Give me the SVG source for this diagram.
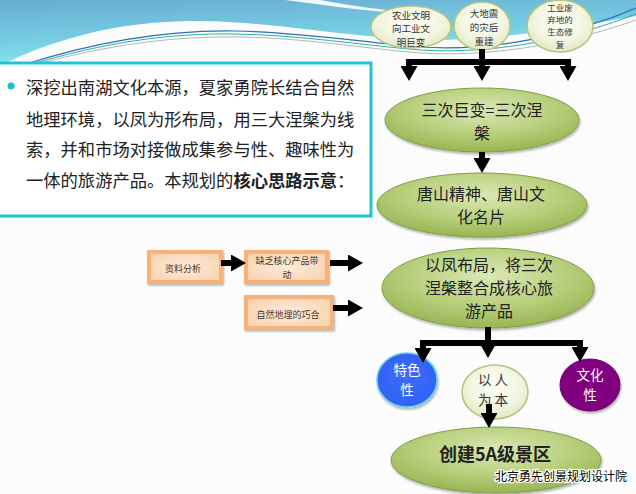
<svg xmlns="http://www.w3.org/2000/svg" width="636" height="494" viewBox="0 0 636 494">
<defs>
<style>
.cjk{font-family:"Noto Sans CJK SC","Noto Sans",sans-serif;}
.sm{font-size:9.5px;fill:#333;text-anchor:middle;}
.sm2{font-size:8.5px;fill:#333;text-anchor:middle;}
.big{font-size:16px;fill:#222;text-anchor:middle;}
.box{font-size:9px;fill:#4a3525;text-anchor:middle;}
.mid{font-size:13.5px;text-anchor:middle;}
.main{font-size:17.3px;fill:#222;}
.gel{fill:url(#gGreen);stroke:#819e42;stroke-width:1;filter:url(#sh);}
.tel{fill:url(#gLight);stroke:#b5c47f;stroke-width:1.5;}
.obox{fill:url(#gOrange);stroke:#f6b27a;stroke-width:4;filter:url(#sh2);}
.ln{fill:none;stroke:#000;stroke-width:6;}
.ar{fill:none;stroke:#000;stroke-width:6;marker-end:url(#ah);}
</style>
<linearGradient id="hdr" x1="0" y1="0" x2="0.3" y2="1">
<stop offset="0" stop-color="#69acd4"/>
<stop offset="0.6" stop-color="#76cfe3"/>
<stop offset="1" stop-color="#8ce6ee"/>
</linearGradient>
<radialGradient id="gGreen" cx="0.5" cy="0.35" r="0.7">
<stop offset="0" stop-color="#dbe8b4"/>
<stop offset="0.55" stop-color="#b6ce7a"/>
<stop offset="1" stop-color="#93b04b"/>
</radialGradient>
<radialGradient id="gLight" cx="0.5" cy="0.4" r="0.65">
<stop offset="0" stop-color="#fdfdf6"/>
<stop offset="0.6" stop-color="#f3f5e2"/>
<stop offset="1" stop-color="#dde6bb"/>
</radialGradient>
<radialGradient id="gBlue" cx="0.5" cy="0.45" r="0.6">
<stop offset="0" stop-color="#3d6cff"/>
<stop offset="0.85" stop-color="#3362f2"/>
<stop offset="1" stop-color="#3a8ee8"/>
</radialGradient>
<radialGradient id="gOrange" cx="0.5" cy="0.5" r="0.7">
<stop offset="0" stop-color="#fdebdc"/>
<stop offset="1" stop-color="#f9cfa9"/>
</radialGradient>
<filter id="sh" x="-10%" y="-10%" width="125%" height="130%">
<feDropShadow dx="1" dy="2" stdDeviation="1.2" flood-color="#000" flood-opacity="0.3"/>
</filter>
<filter id="sh2" x="-10%" y="-10%" width="125%" height="130%">
<feDropShadow dx="1" dy="1.5" stdDeviation="0.8" flood-color="#000" flood-opacity="0.3"/>
</filter>
<marker id="ah" markerUnits="userSpaceOnUse" viewBox="0 0 15 17" markerWidth="15" markerHeight="17" refX="0" refY="8.5" orient="auto">
<path d="M0,0 L15,8.5 L0,17 Z" fill="#000"/>
</marker>
</defs>

<g id="background">
<rect x="0" y="0" width="636" height="494" fill="#fcfcfc"/>
<path d="M0,0 H636 V16 C 570,28 500,40 430,40 C 350,38 280,22 200,21 C 120,20 50,40 0,66 Z" fill="url(#hdr)"/>
<path d="M285,0 C 330,6 380,13 440,16 C 400,12 350,6 320,0 Z" fill="#ffffff" opacity="0.9"/>
<path d="M20,66 C 100,40 170,30 235,31 C 300,32 360,42 420,47 C 500,52 580,32 636,8" fill="none" stroke="#2f6fc0" stroke-width="1.2"/>
<path d="M25,66 C 105,42 170,33 235,34 C 300,35 360,45 420,50 C 500,55 580,36 636,14" fill="none" stroke="#2bb3a0" stroke-width="1"/>
<path d="M30,66 C 110,44 175,36 240,37 C 305,38 360,48 420,53 C 500,58 580,40 636,20" fill="none" stroke="#9aa6b0" stroke-width="0.8"/>
</g>

<g id="intro">
<rect x="-4" y="63" width="375" height="153" fill="#ffffff" stroke="#1fc4d4" stroke-width="3"/>
<circle cx="11" cy="86" r="3.5" fill="#1cbfd0"/>
<text class="cjk main" x="26" y="94">深挖出南湖文化本源，夏家勇院长结合自然</text>
<text class="cjk main" x="26" y="126">地理环境，以凤为形布局，用三大涅槃为线</text>
<text class="cjk main" x="26" y="156">索，并和市场对接做成集参与性、趣味性为</text>
<text class="cjk main" x="26" y="187">一体的旅游产品。本规划的<tspan font-weight="bold">核心思路示意</tspan>：</text>
</g>

<g id="top1">
<ellipse class="tel" cx="411" cy="27" rx="40" ry="21"/>
<text class="cjk sm" x="411" y="18.6">农业文明<tspan x="411" dy="13.8">向工业文</tspan><tspan x="411" dy="13.8">明巨变</tspan></text>
</g>
<g id="top2">
<ellipse class="tel" cx="482" cy="26" rx="28" ry="24"/>
<text class="cjk sm" x="484" y="17.1">大地震<tspan x="484" dy="13.8">的灾后</tspan><tspan x="484" dy="13.8">重建</tspan></text>
</g>
<g id="top3">
<ellipse class="tel" cx="560" cy="26" rx="33" ry="26"/>
<text class="cjk sm2" x="560" y="10.7">工业废<tspan x="560" dy="12.3">弃地的</tspan><tspan x="560" dy="12.3">生态修</tspan><tspan x="560" dy="12.3">复</tspan></text>
</g>

<g id="nodeA">
<ellipse class="gel" cx="482" cy="120" rx="97" ry="32"/>
<text class="cjk big" x="482" y="115.5">三次巨变=三次涅<tspan x="482" dy="23.3">槃</tspan></text>
</g>
<g id="nodeB">
<ellipse class="gel" cx="482" cy="205" rx="105" ry="32"/>
<text class="cjk big" x="481" y="199.5">唐山精神、唐山文<tspan x="481" dy="23.3">化名片</tspan></text>
</g>
<g id="nodeC">
<ellipse class="gel" cx="488" cy="288" rx="106" ry="40"/>
<text class="cjk big" x="489" y="270.8">以凤布局，将三次<tspan x="489" dy="23.3">涅槃整合成核心旅</tspan><tspan x="489" dy="23.3">游产品</tspan></text>
</g>

<g id="box1">
<rect class="obox" x="149" y="252" width="72" height="30"/>
<text class="cjk box" x="183" y="272">资料分析</text>
</g>
<g id="box2">
<rect class="obox" x="246" y="252" width="81" height="30"/>
<text class="cjk box" x="287" y="264.4">缺乏核心产品带<tspan x="287" dy="13.1">动</tspan></text>
</g>
<g id="box3">
<rect class="obox" x="246" y="297" width="86" height="31"/>
<text class="cjk box" x="288" y="318">自然地理的巧合</text>
</g>

<g id="nodeTese">
<ellipse cx="407" cy="380" rx="30" ry="27" fill="url(#gBlue)" stroke="#5fd0f0" stroke-width="1.5" filter="url(#sh)"/>
<text class="cjk mid" x="407" y="375.3" fill="#fff">特色<tspan x="407" dy="19.6">性</tspan></text>
</g>
<g id="nodeRen">
<ellipse class="tel" cx="495" cy="392" rx="33" ry="27"/>
<text class="cjk mid" x="493" y="385.3" fill="#333">以 人<tspan x="493" dy="19.6">为 本</tspan></text>
</g>
<g id="nodeWen">
<ellipse cx="590" cy="385" rx="30" ry="26" fill="#800080" stroke="#6a006a" stroke-width="1" filter="url(#sh)"/>
<text class="cjk mid" x="590" y="380.3" fill="#fff">文化<tspan x="590" dy="19.6">性</tspan></text>
</g>
<g id="nodeFinal">
<ellipse class="gel" cx="496" cy="460" rx="105" ry="33"/>
<text class="cjk" x="495" y="461" font-size="18" font-weight="bold" fill="#222" text-anchor="middle">创建5A级景区</text>
</g>

<g id="connectors">
<path class="ln" d="M482,49 V62"/>
<path class="ln" d="M406,62 H571"/>
<path class="ar" d="M409,60 V66"/>
<path class="ar" d="M482,60 V66"/>
<path class="ar" d="M568,60 V66"/>
<path class="ar" d="M482,152 V158"/>
<path class="ar" d="M221,263 H231"/>
<path class="ar" d="M330,263 H348"/>
<path class="ar" d="M333,308 H348"/>
<path class="ln" d="M488,327 V343"/>
<path class="ln" d="M420,343 H583"/>
<path class="ar" d="M423,341 V348"/>
<path class="ar" d="M488,341 V343"/>
<path class="ar" d="M580,341 V347"/>
<path class="ar" d="M489,404 V413"/>
</g>

<text id="watermark" class="cjk" x="627" y="481" font-size="12" text-anchor="end" fill="#000" stroke="#fff" stroke-width="2.5" paint-order="stroke">北京勇先创景规划设计院</text>
</svg>
